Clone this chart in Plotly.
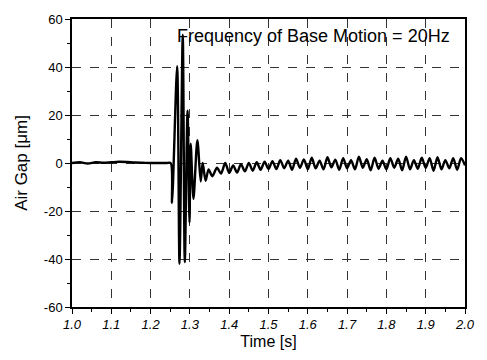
import plotly.graph_objects as go

# Time [s] and Air Gap [um], read peak by peak off the reference
pre_t = [1.00, 1.02, 1.04, 1.06, 1.08, 1.10, 1.12, 1.14, 1.16, 1.18, 1.20, 1.22, 1.24, 1.251]
pre_y = [0.0, 0.3, -0.2, 0.3, 0.1, 0.3, 0.5, 0.4, 0.2, 0.1, 0.0, 0.0, 0.0, 0.0]

burst_t = [1.2545, 1.2675, 1.2735, 1.2818, 1.2870, 1.2940, 1.2990, 1.3020, 1.3090,
           1.3190, 1.3275, 1.3325, 1.3400, 1.3475, 1.3570, 1.3690, 1.3790, 1.3900]
burst_y = [-16.6, 40.3, -42.0, 53.5, -41.3, 21.8, -24.8, 8.0, -15.0,
           9.5, -7.7, 0.0, -7.4, -2.7, -5.5, -2.0, -4.4, 0.0]

tail_t = [1.40, 1.41, 1.42, 1.43, 1.44, 1.45, 1.46, 1.47, 1.48, 1.49,
          1.50, 1.51, 1.52, 1.53, 1.54, 1.55, 1.56, 1.57, 1.58, 1.59,
          1.60, 1.61, 1.62, 1.63, 1.64, 1.65, 1.66, 1.67, 1.68, 1.69,
          1.70, 1.71, 1.72, 1.73, 1.74, 1.75, 1.76, 1.77, 1.78, 1.79,
          1.80, 1.81, 1.82, 1.83, 1.84, 1.85, 1.86, 1.87, 1.88, 1.89,
          1.90, 1.91, 1.92, 1.93, 1.94, 1.95, 1.96, 1.97, 1.98, 1.99, 2.00]
tail_y = [-4.1, -1.0, -4.0, -0.5, -3.5, 0.0, -3.2, 0.3, -2.8, 0.5,
          -2.5, 0.8, -2.5, 1.2, -2.2, 1.0, -2.8, 1.8, -2.0, 1.5,
          -2.6, 2.2, -2.2, 1.0, -2.6, 2.4, -1.8, 1.4, -2.8, 2.0,
          -2.2, 1.2, -2.6, 2.6, -2.0, 1.6, -3.0, 2.2, -2.4, 1.0,
          -2.6, 2.0, -2.0, 1.8, -3.0, 2.6, -2.6, 1.2, -2.4, 2.2,
          -2.0, 2.0, -3.2, 2.4, -2.6, 1.2, -2.2, 2.0, -2.8, 2.0, -1.0]

time = pre_t + burst_t + tail_t
gap = pre_y + burst_y + tail_y

x_ticks = [1.0, 1.1, 1.2, 1.3, 1.4, 1.5, 1.6, 1.7, 1.8, 1.9, 2.0]
y_ticks = [-60, -40, -20, 0, 20, 40, 60]

fig = go.Figure()
fig.add_trace(go.Scatter(x=time, y=gap, mode="lines",
                         line=dict(color="black", width=2.4, shape="spline", smoothing=0.8),
                         showlegend=False))

fig.add_annotation(x=1.968, y=58, xref="x", yref="y", xanchor="right", yanchor="top",
                   text="Frequency of Base Motion = 20Hz", showarrow=False,
                   font=dict(family="Liberation Sans, Arial", size=18, color="black"))

fig.update_layout(
    width=487, height=360,
    margin=dict(l=72, r=15, t=16, b=53),
    paper_bgcolor="white", plot_bgcolor="white",
    font=dict(family="Liberation Sans, Arial", color="black"),
)
fig.update_xaxes(
    range=[1.0, 2.0], tickvals=x_ticks, ticktext=[f"{v:.1f}" for v in x_ticks],
    tickfont=dict(size=13, style="italic"),
    showline=True, linecolor="black", linewidth=1.5, mirror=True,
    ticks="outside", ticklen=5, tickcolor="black",
    minor=dict(dtick=0.05, ticks="outside", ticklen=3, tickcolor="black", showgrid=False),
    showgrid=True, gridcolor="#333333", griddash="dash", gridwidth=1,
    zeroline=False,
    title=dict(text="Time [s]", font=dict(size=16), standoff=4),
)
fig.update_yaxes(
    range=[-60, 60], tickvals=y_ticks, ticktext=[str(v) for v in y_ticks],
    tickfont=dict(size=13),
    showline=True, linecolor="black", linewidth=1.5, mirror=True,
    ticks="outside", ticklen=5, tickcolor="black",
    minor=dict(dtick=10, ticks="outside", ticklen=3, tickcolor="black", showgrid=False),
    showgrid=True, gridcolor="#333333", griddash="dash", gridwidth=1,
    zeroline=False,
    title=dict(text="Air Gap [μm]", font=dict(size=17), standoff=12),
)

fig.write_html("out.html")
